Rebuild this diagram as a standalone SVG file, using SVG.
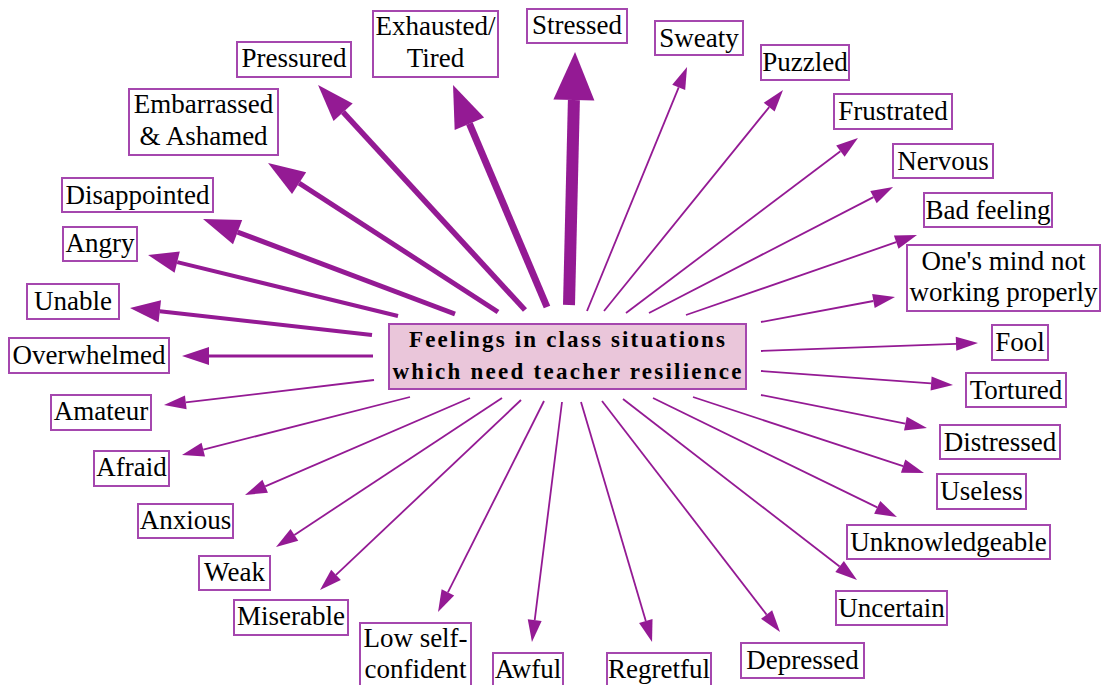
<svg xmlns="http://www.w3.org/2000/svg" width="1101" height="685" viewBox="0 0 1101 685" font-family="'Liberation Serif', 'Times New Roman', Times, serif">
<style>
.box{fill:#ffffff;stroke:#a547ae;stroke-width:2}
.center{fill:#eac6da;stroke:#a547ae;stroke-width:2}
.t{font-size:27px;fill:#000;text-anchor:middle}
.ct{font-size:23px;font-weight:bold;fill:#000;text-anchor:middle}
.e{fill:none;stroke:#941a94;stroke-linecap:butt}
.w1{stroke-width:1.8;marker-end:url(#a1)}
.w3{stroke-width:3;marker-end:url(#a3)}
.w4{stroke-width:4;marker-end:url(#a4)}
.w5{stroke-width:5;marker-end:url(#a5)}
.w55{stroke-width:5.5;marker-end:url(#a5)}
.w7{stroke-width:7;marker-end:url(#a7)}
.w12{stroke-width:12;marker-end:url(#a11)}
</style>
<defs>
<marker id="a1" markerUnits="userSpaceOnUse" orient="auto" markerWidth="22" markerHeight="14" refX="0" refY="7" overflow="visible"><path d="M0,0 L22,7 L0,14 Z" fill="#941a94"/></marker>
<marker id="a3" markerUnits="userSpaceOnUse" orient="auto" markerWidth="27" markerHeight="18" refX="0" refY="9" overflow="visible"><path d="M0,0 L27,9 L0,18 Z" fill="#941a94"/></marker>
<marker id="a4" markerUnits="userSpaceOnUse" orient="auto" markerWidth="30" markerHeight="22" refX="0" refY="11" overflow="visible"><path d="M0,0 L30,11 L0,22 Z" fill="#941a94"/></marker>
<marker id="a5" markerUnits="userSpaceOnUse" orient="auto" markerWidth="37" markerHeight="26" refX="0" refY="13" overflow="visible"><path d="M0,0 L37,13 L0,26 Z" fill="#941a94"/></marker>
<marker id="a7" markerUnits="userSpaceOnUse" orient="auto" markerWidth="42" markerHeight="32" refX="0" refY="16" overflow="visible"><path d="M0,0 L42,16 L0,32 Z" fill="#941a94"/></marker>
<marker id="a11" markerUnits="userSpaceOnUse" orient="auto" markerWidth="48" markerHeight="41" refX="0" refY="20.5" overflow="visible"><path d="M0,0 L48,20.5 L0,41 Z" fill="#941a94"/></marker>
</defs>
<rect width="1101" height="685" fill="#ffffff"/>
<g id="connectors">
<path class="e w12" d="M569,305 L573.9,100"/>
<path class="e w7" d="M547,307 L469.4,123.7"/>
<path class="e w55" d="M525,310 L343.1,112.2"/>
<path class="e w5" d="M498,312 L299.1,183.1"/>
<path class="e w5" d="M455,314 L237.6,232.1"/>
<path class="e w4" d="M398,316 L177.2,262.1"/>
<path class="e w4" d="M372,335 L159.8,311.3"/>
<path class="e w3" d="M373,356 L209,356"/>
<path class="e w1" d="M374,380 L185.8,402.4"/>
<path class="e w1" d="M410,397 L203.3,449.6"/>
<path class="e w1" d="M470,398 L265.2,486.3"/>
<path class="e w1" d="M502,398 L294.4,534.9"/>
<path class="e w1" d="M521,400 L336,574.9"/>
<path class="e w1" d="M544,401 L447.9,592.3"/>
<path class="e w1" d="M562,402 L534.7,620.2"/>
<path class="e w1" d="M581,402 L645.8,620.9"/>
<path class="e w1" d="M602,401 L766.6,614.6"/>
<path class="e w1" d="M623,399 L839.6,566.5"/>
<path class="e w1" d="M653,398 L877.2,507.4"/>
<path class="e w1" d="M693,397 L903.1,466.1"/>
<path class="e w1" d="M761,395 L905.4,423.7"/>
<path class="e w1" d="M761,371 L931.1,383.4"/>
<path class="e w1" d="M761,351 L956,343.8"/>
<path class="e w1" d="M761,322 L873.4,301"/>
<path class="e w1" d="M686,315 L896.2,242.2"/>
<path class="e w1" d="M649,313 L873.5,197.1"/>
<path class="e w1" d="M626,313 L840.4,151.2"/>
<path class="e w1" d="M604,311 L769.2,107.1"/>
<path class="e w1" d="M587,311 L678.7,87.4"/>
</g>
<g id="center">
<rect class="center" x="389" y="324" width="357" height="65"/>
<text class="ct" x="567" y="347" textLength="316" lengthAdjust="spacing">Feelings in class situations</text>
<text class="ct" x="567" y="379" textLength="349" lengthAdjust="spacing">which need teacher resilience</text>
</g>
<g id="n-pressured"><rect class="box" x="237" y="42" width="114" height="35"/><text class="t" x="294" y="67">Pressured</text></g>
<g id="n-exhausted"><rect class="box" x="373" y="11" width="125" height="66"/><text class="t" x="435.5" y="35">Exhausted/</text><text class="t" x="435.5" y="67">Tired</text></g>
<g id="n-stressed"><rect class="box" x="527" y="9" width="100" height="34"/><text class="t" x="577" y="34">Stressed</text></g>
<g id="n-sweaty"><rect class="box" x="655" y="21" width="88" height="34"/><text class="t" x="699" y="47">Sweaty</text></g>
<g id="n-puzzled"><rect class="box" x="761" y="45" width="88" height="35"/><text class="t" x="805" y="71">Puzzled</text></g>
<g id="n-frustrated"><rect class="box" x="834" y="94" width="118" height="35"/><text class="t" x="893" y="120">Frustrated</text></g>
<g id="n-nervous"><rect class="box" x="893" y="144" width="100" height="34"/><text class="t" x="943" y="170">Nervous</text></g>
<g id="n-badfeeling"><rect class="box" x="924" y="193" width="128" height="34"/><text class="t" x="988" y="219">Bad feeling</text></g>
<g id="n-mind"><rect class="box" x="907" y="245" width="193" height="66"/><text class="t" x="1003.5" y="270">One's mind not</text><text class="t" x="1003.5" y="301">working properly</text></g>
<g id="n-fool"><rect class="box" x="992" y="325" width="56" height="35"/><text class="t" x="1020" y="351">Fool</text></g>
<g id="n-tortured"><rect class="box" x="966" y="373" width="100" height="34"/><text class="t" x="1016" y="399">Tortured</text></g>
<g id="n-distressed"><rect class="box" x="940" y="425" width="120" height="34"/><text class="t" x="1000" y="451">Distressed</text></g>
<g id="n-useless"><rect class="box" x="937" y="474" width="89" height="35"/><text class="t" x="981.5" y="500">Useless</text></g>
<g id="n-unknowledgeable"><rect class="box" x="847" y="525" width="203" height="34"/><text class="t" x="948.5" y="551">Unknowledgeable</text></g>
<g id="n-uncertain"><rect class="box" x="836" y="591" width="111" height="34"/><text class="t" x="891.5" y="617">Uncertain</text></g>
<g id="n-depressed"><rect class="box" x="741" y="643" width="123" height="35"/><text class="t" x="802.5" y="669">Depressed</text></g>
<g id="n-regretful"><rect class="box" x="607" y="653" width="104" height="40"/><text class="t" x="659" y="678">Regretful</text></g>
<g id="n-awful"><rect class="box" x="493" y="653" width="70" height="40"/><text class="t" x="528" y="678">Awful</text></g>
<g id="n-lowself"><rect class="box" x="360" y="623" width="111" height="70"/><text class="t" x="415.5" y="647">Low self-</text><text class="t" x="415.5" y="678">confident</text></g>
<g id="n-miserable"><rect class="box" x="234" y="600" width="114" height="35"/><text class="t" x="291" y="625">Miserable</text></g>
<g id="n-weak"><rect class="box" x="199" y="556" width="71" height="34"/><text class="t" x="234.5" y="581">Weak</text></g>
<g id="n-anxious"><rect class="box" x="138" y="504" width="95" height="34"/><text class="t" x="185.5" y="529">Anxious</text></g>
<g id="n-afraid"><rect class="box" x="94" y="451" width="75" height="35"/><text class="t" x="131.5" y="476">Afraid</text></g>
<g id="n-amateur"><rect class="box" x="51" y="395" width="100" height="35"/><text class="t" x="101" y="420">Amateur</text></g>
<g id="n-overwhelmed"><rect class="box" x="9" y="338" width="160" height="35"/><text class="t" x="89" y="364">Overwhelmed</text></g>
<g id="n-unable"><rect class="box" x="27" y="284" width="92" height="35"/><text class="t" x="73" y="310">Unable</text></g>
<g id="n-angry"><rect class="box" x="63" y="227" width="74" height="34"/><text class="t" x="100" y="252">Angry</text></g>
<g id="n-disappointed"><rect class="box" x="62" y="178" width="151" height="34"/><text class="t" x="137.5" y="204">Disappointed</text></g>
<g id="n-embarrassed"><rect class="box" x="129" y="89" width="149" height="66"/><text class="t" x="203.5" y="113">Embarrassed</text><text class="t" x="203.5" y="145">&amp; Ashamed</text></g>
</svg>
